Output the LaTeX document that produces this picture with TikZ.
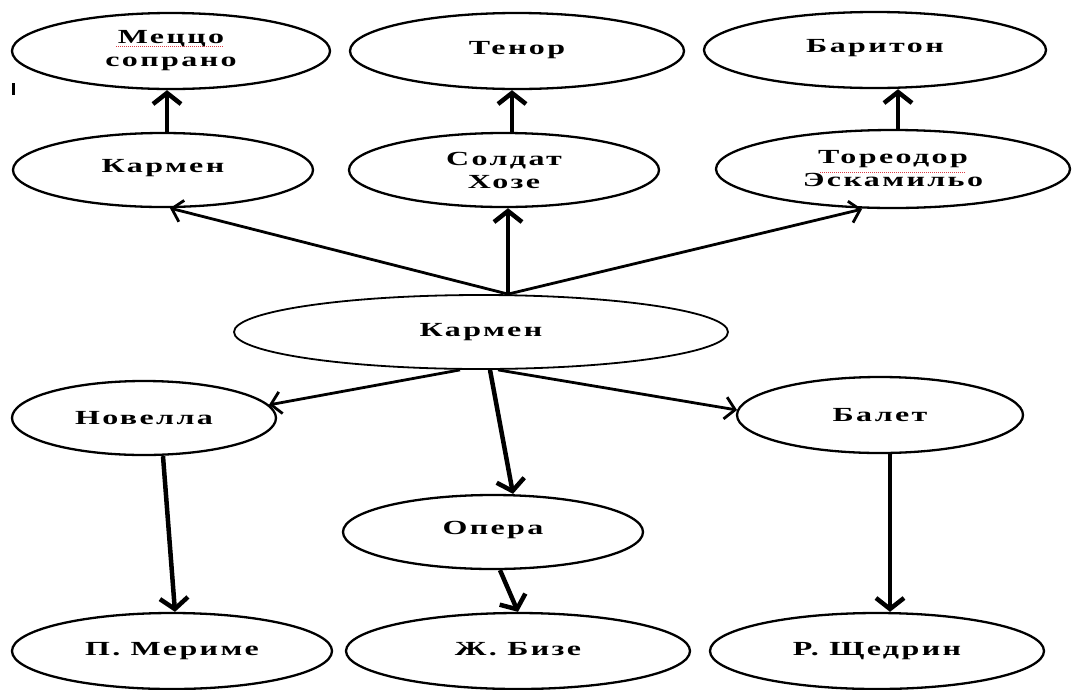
\documentclass[tikz,border=0pt]{standalone}
\usepackage{fontspec}
\setmainfont{Liberation Serif}[FakeStretch=1.6, LetterSpace=12]
\usetikzlibrary{shapes.geometric,arrows.meta}
\definecolor{spellred}{RGB}{220,60,70}
\tikzset{
  oval/.style={draw, ellipse, line width=2.3pt, inner sep=0pt, align=center,
    font=\fontsize{20}{23}\selectfont\bfseries},
  thick arr/.style={line width=4.5pt, -{Straight Barb[length=11pt,width=28pt]}},
  thin arr/.style={line width=2.8pt, -{Straight Barb[length=10pt,width=22pt]}},
  spell/.style={draw=spellred, line width=1pt, densely dotted},
}
\begin{document}
\begin{tikzpicture}[x=1pt,y=-1pt]
\useasboundingbox (0,0) rectangle (1074,689);
% top row
\node[oval, minimum width=318pt, minimum height=76pt] (mz) at (171,51) {Меццо\\сопрано};
\node[oval, minimum width=334pt, minimum height=76pt] (ten) at (517,51) {\raisebox{7pt}{Тенор}};
\node[oval, minimum width=342pt, minimum height=76pt] (bar) at (875,50) {\raisebox{8pt}{Баритон}};
% second row
\node[oval, minimum width=300pt, minimum height=74pt] (k1) at (163,170) {\raisebox{8pt}{Кармен}};
\node[oval, minimum width=310pt, minimum height=74pt] (sol) at (504,170) {Солдат\\Хозе};
\node[oval, minimum width=354pt, minimum height=78pt] (tor) at (893,169) {Тореодор\\Эскамильо};
% centre
\node[oval, minimum width=494pt, minimum height=74pt, line width=1.8pt] (c) at (481,332) {Кармен};
% third row
\node[oval, minimum width=264pt, minimum height=74pt] (nov) at (144,418) {Новелла};
\node[oval, minimum width=286pt, minimum height=76pt] (bal) at (880,415) {Балет};
\node[oval, minimum width=300pt, minimum height=74pt] (op) at (493,532) {\raisebox{9pt}{Опера}};
% bottom row
\node[oval, minimum width=320pt, minimum height=76pt] (mer) at (172,651) {\raisebox{4pt}{П. Мериме}};
\node[oval, minimum width=344pt, minimum height=76pt] (biz) at (518,651) {\raisebox{4pt}{Ж. Бизе}};
\node[oval, minimum width=334pt, minimum height=76pt] (sch) at (877,651) {\raisebox{4pt}{Р. Щедрин}};
% spell-check marks
\draw[spell] (116,46) -- (224,46);
\draw[spell] (820,172) -- (966,172);
% stray tick
\draw[line width=3pt] (13,83) -- (13,95);
% connectors upward
\draw[thick arr] ([xshift=4pt]k1.north) -- ([xshift=4pt]k1.north |- mz.south);
\draw[thick arr] ([xshift=8pt]sol.north) -- ([xshift=8pt]sol.north |- ten.south);
\draw[thick arr] ([xshift=5pt]tor.north) -- ([xshift=5pt]tor.north |- bar.south);
% from centre upward
\draw[thin arr] ([xshift=27pt]c.north) -- ([xshift=7pt]k1.south);
\draw[thick arr] ([xshift=27pt]c.north) -- ([xshift=27pt]c.north |- sol.south);
\draw[thin arr] ([xshift=27pt]c.north) -- ([xshift=-31pt]tor.south);
% from centre downward
\draw[thin arr] ([xshift=-21pt]c.south) -- (nov.6);
\draw[thin arr] ([xshift=17pt]c.south) -- (bal.178);
\draw[thick arr] ([xshift=9pt]c.south) -- ([xshift=20pt]op.north);
% lower connectors
\draw[thick arr] ([xshift=19pt]nov.south) -- ([xshift=3pt]mer.north);
\draw[thick arr] ([xshift=7pt]op.south) -- (biz.north);
\draw[thick arr] ([xshift=10pt]bal.south) -- ([xshift=10pt]bal.south |- sch.north);
\end{tikzpicture}
\end{document}
